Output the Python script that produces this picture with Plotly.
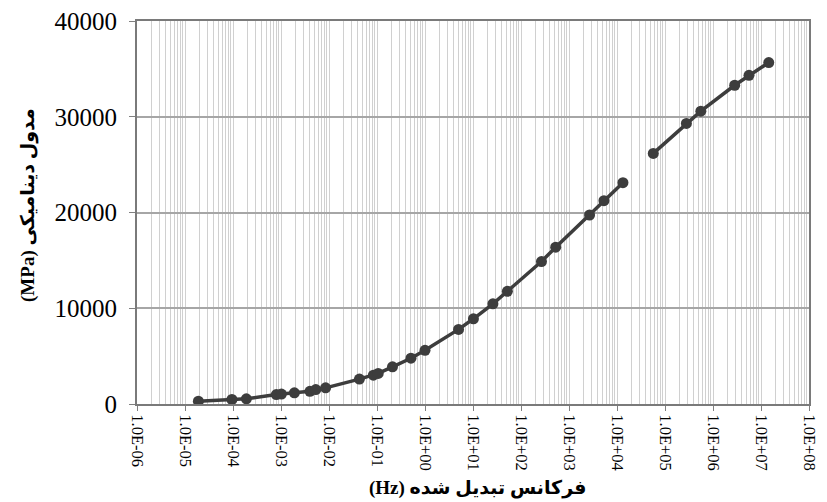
import plotly.graph_objects as go

# Master curve: dynamic modulus vs reduced frequency (two segments, gap between them)
freq_low = [1.9e-5, 9.5e-5, 1.9e-4, 8.0e-4, 1.02e-3, 1.9e-3, 4.0e-3, 5.3e-3, 8.5e-3,
            4.3e-2, 8.4e-2, 1.06e-1, 2.1e-1, 5.1e-1, 1.0, 5.0, 10.2, 26, 52,
            267, 528, 2680, 5350, 13300]
modulus_low = [290, 470, 540, 990, 1040, 1170, 1330, 1510, 1690,
               2600, 3010, 3190, 3880, 4780, 5610, 7790, 8900, 10460, 11770,
               14880, 16380, 19740, 21240, 23110]

freq_high = [5.7e4, 2.79e5, 5.58e5, 2.83e6, 5.62e6, 1.45e7]
modulus_high = [26170, 29300, 30580, 33290, 34330, 35660]

x_exponents = [-6, -5, -4, -3, -2, -1, 0, 1, 2, 3, 4, 5, 6, 7, 8]
x_tick_labels = ["1.0E-06", "1.0E-05", "1.0E-04", "1.0E-03", "1.0E-02", "1.0E-01",
                 "1.0E+00", "1.0E+01", "1.0E+02", "1.0E+03", "1.0E+04", "1.0E+05",
                 "1.0E+06", "1.0E+07", "1.0E+08"]
y_ticks = [0, 10000, 20000, 30000, 40000]

x_title = "\u202bفرکانس تبدیل شده (Hz)\u202c"
y_title = "\u202bمدول دینامیکی (MPa)\u202c"

serif = "Liberation Serif, Times New Roman, DejaVu Serif, serif"
title_font = "Liberation Serif, DejaVu Sans, sans-serif"
line_color = "#3d3d3d"

x_all = freq_low + [None] + freq_high
y_all = modulus_low + [None] + modulus_high

fig = go.Figure()
fig.add_trace(go.Scatter(
    x=x_all, y=y_all, mode="lines+markers", connectgaps=False,
    line=dict(color=line_color, width=3.5),
    marker=dict(color=line_color, size=11, symbol="circle"),
    showlegend=False,
))

fig.update_xaxes(
    type="log", range=[-6, 8],
    tickvals=[10.0 ** e for e in x_exponents], ticktext=x_tick_labels,
    tickangle=90, tickfont=dict(family=serif, size=16.5, color="#000000"),
    ticks="outside", ticklen=5, tickcolor="#808080",
    showgrid=True, gridcolor="#d0d0d0", gridwidth=1.3,
    minor=dict(dtick="D1", showgrid=True, gridcolor="#d0d0d0", gridwidth=1.3, ticks=""),
    showline=True, linecolor="#7a7a7a", linewidth=2, mirror=True,
    zeroline=False,
)
fig.update_yaxes(
    range=[0, 40000], tickvals=y_ticks, tickformat="d",
    tickfont=dict(family=serif, size=25, color="#000000"),
    ticks="outside", ticklen=6, tickcolor="#808080", ticklabelstandoff=7,
    showgrid=True, gridcolor="#a6a6a6", gridwidth=1.5,
    showline=True, linecolor="#7a7a7a", linewidth=2, mirror=True,
    zeroline=False,
)

fig.update_layout(
    width=827, height=502,
    margin=dict(l=137, r=8, t=20, b=98),
    paper_bgcolor="#ffffff", plot_bgcolor="#ffffff",
    annotations=[
        dict(text="<b>" + x_title + "</b>", xref="paper", yref="paper",
             x=0.507, y=-0.22, xanchor="center", yanchor="middle", showarrow=False,
             font=dict(family=title_font, size=19, color="#000000")),
        dict(text="<b>" + y_title + "</b>", xref="paper", yref="paper",
             x=-0.162, y=0.52, xanchor="center", yanchor="middle", showarrow=False,
             textangle=-90,
             font=dict(family=title_font, size=19, color="#000000")),
    ],
)

fig.write_html("out.html")
